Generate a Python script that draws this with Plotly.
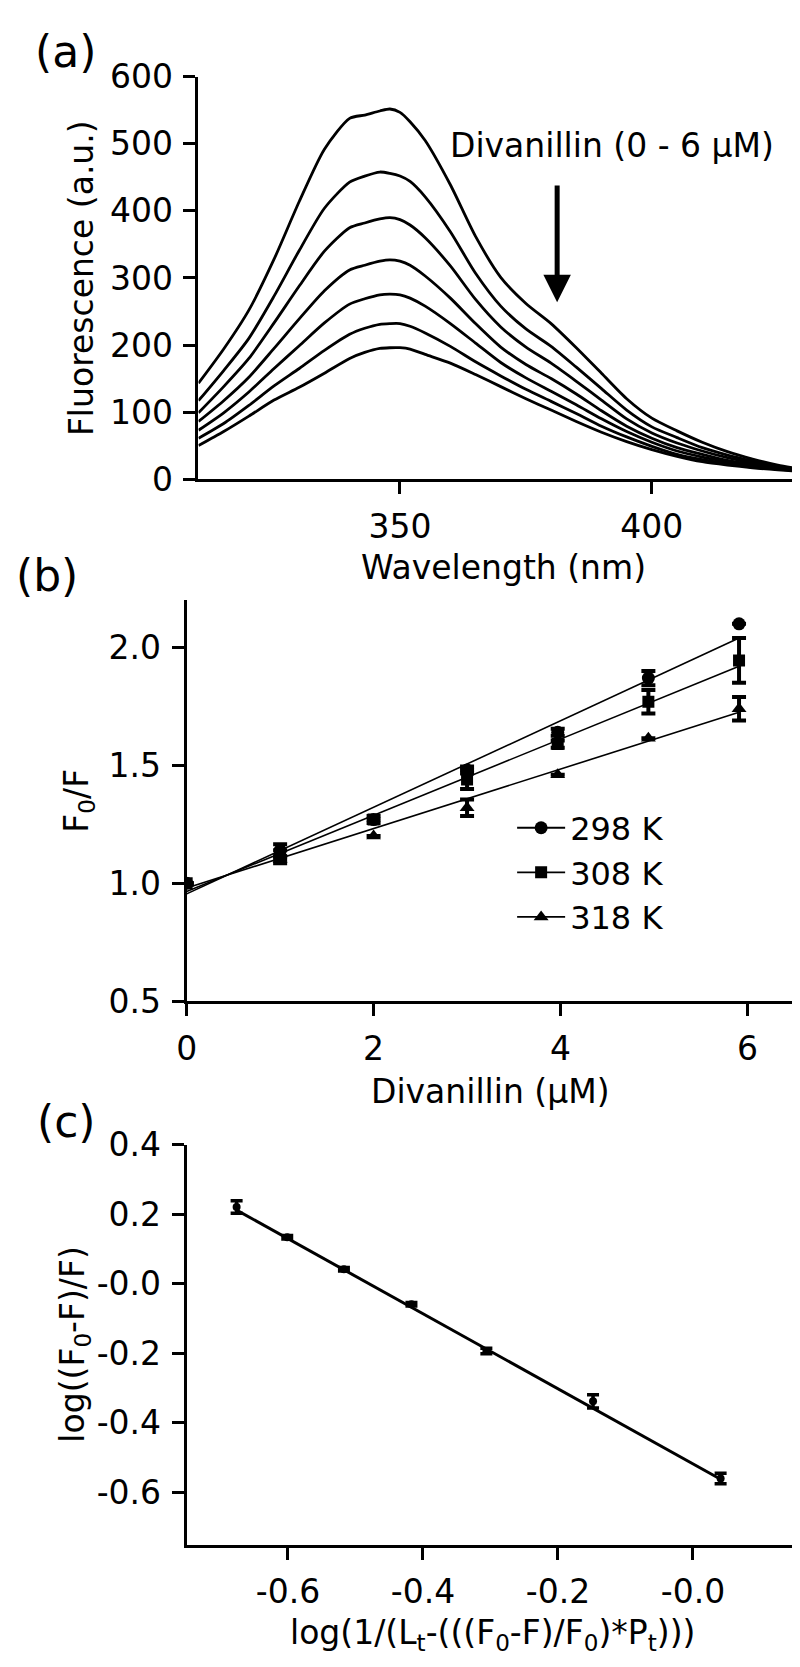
import plotly.graph_objects as go

W, H = 800, 1667
FONT = "DejaVu Sans"

# ---------------- Panel (a): emission spectra ----------------
wavelength = [310, 315, 320, 325, 330, 335, 340, 343, 346, 348, 350, 352, 355, 360,
              365, 370, 375, 380, 385, 390, 395, 400, 405, 410, 415, 420, 425, 431]
spec_0 = [143, 194, 252, 328, 414, 492, 538, 543, 549, 552, 547, 533, 505, 439,
          362, 301, 262, 232, 196, 158, 120, 91, 72, 55, 41, 30, 21, 13]
spec_1 = [117, 162, 210, 273, 341, 404, 443, 452, 458, 456, 452, 444, 421, 369,
          307, 258, 224, 198, 167, 135, 103, 78, 62, 47, 36, 27, 19, 13]
spec_2 = [99, 138, 180, 233, 288, 340, 375, 382, 388, 390, 387, 379, 360, 318,
          268, 227, 197, 173, 146, 118, 90, 69, 54, 42, 32, 24, 18, 12]
spec_3 = [86, 117, 152, 195, 239, 281, 312, 319, 325, 327, 325, 319, 303, 270,
          232, 197, 171, 150, 127, 102, 79, 61, 47, 37, 28, 22, 17, 12]
spec_4 = [73, 99, 130, 165, 199, 233, 261, 269, 275, 276, 275, 270, 258, 232,
          203, 174, 151, 131, 111, 90, 71, 55, 42, 33, 26, 20, 16, 12]
spec_5 = [61, 83, 110, 139, 165, 192, 216, 225, 231, 232, 232, 228, 218, 198,
          175, 154, 134, 116, 98, 79, 63, 49, 37, 29, 23, 18, 15, 11]
spec_6 = [50, 71, 94, 118, 137, 158, 180, 189, 195, 196, 196, 194, 186, 173,
          156, 138, 120, 103, 86, 70, 56, 44, 34, 26, 21, 17, 14, 11]
spectra = [spec_0, spec_1, spec_2, spec_3, spec_4, spec_5, spec_6]

a_yticks = [0, 100, 200, 300, 400, 500, 600]
a_xticks = [350, 400]

# ---------------- Panel (b): Stern-Volmer ----------------
conc = [0, 1, 2, 3, 3.97, 4.94, 5.91]
f0f_298 = [1.00, 1.14, 1.27, 1.48, 1.64, 1.87, 2.10]
err_298 = [0, 0.025, 0, 0.015, 0.015, 0.03, 0]
f0f_308 = [1.00, 1.12, 1.27, 1.44, 1.59, 1.77, 1.945]
err_308 = [0, 0.02, 0.015, 0.04, 0.015, 0.05, 0.095]
f0f_318 = [1.00, 1.10, 1.20, 1.32, 1.46, 1.615, 1.74]
err_318 = [0, 0.015, 0, 0.035, 0, 0, 0.05]
fit_x = [0, 5.91]
fit_298 = [0.955, 2.04]
fit_308 = [0.965, 1.92]
fit_318 = [0.98, 1.725]
temps = ["298 K", "308 K", "318 K"]
b_yticks = [0.5, 1.0, 1.5, 2.0]
b_yticktext = ["0.5", "1.0", "1.5", "2.0"]
b_xticks = [0, 2, 4, 6]

# ---------------- Panel (c): double log ----------------
logx = [-0.676, -0.601, -0.517, -0.417, -0.306, -0.148, 0.041]
logy = [0.221, 0.134, 0.042, -0.059, -0.193, -0.338, -0.560]
logerr = [0.018, 0.005, 0.005, 0.005, 0.008, 0.019, 0.015]
fitc_x = [-0.676, 0.041]
fitc_y = [0.212, -0.562]
c_yticks = [0.4, 0.2, 0.0, -0.2, -0.4, -0.6]
c_yticktext = ["0.4", "0.2", "-0.0", "-0.2", "-0.4", "-0.6"]
c_xticks = [-0.6, -0.4, -0.2, 0.0]
c_xticktext = ["-0.6", "-0.4", "-0.2", "-0.0"]

fig = go.Figure()

for s in spectra:
    fig.add_trace(go.Scatter(x=wavelength, y=s, mode="lines",
                             line=dict(color="black", width=2.8, shape="spline", smoothing=0.7),
                             showlegend=False, xaxis="x", yaxis="y", hoverinfo="skip"))

symbols = ["circle", "square", "triangle-up"]
msizes = [13, 12, 13]
for ys, es, fy, sym, ms, name in zip([f0f_298, f0f_308, f0f_318],
                                      [err_298, err_308, err_318],
                                      [fit_298, fit_308, fit_318],
                                      symbols, msizes, temps):
    fig.add_trace(go.Scatter(x=fit_x, y=fy, mode="lines",
                             line=dict(color="black", width=1.6),
                             showlegend=False, xaxis="x2", yaxis="y2"))
    fig.add_trace(go.Scatter(x=conc, y=ys, mode="markers",
                             marker=dict(symbol=sym, size=ms, color="black"),
                             error_y=dict(type="data", array=es, visible=True,
                                          color="black", thickness=4, width=7),
                             showlegend=False, xaxis="x2", yaxis="y2"))
    # legend-only entry (no drawn marks)
    fig.add_trace(go.Scatter(x=[None], y=[None], mode="lines+markers", name=name,
                             legendgroup=name,
                             line=dict(color="black", width=1.8),
                             marker=dict(symbol=sym, size=ms, color="black"),
                             xaxis="x2", yaxis="y2"))

fig.add_trace(go.Scatter(x=fitc_x, y=fitc_y, mode="lines",
                         line=dict(color="black", width=3),
                         showlegend=False, xaxis="x3", yaxis="y3"))
fig.add_trace(go.Scatter(x=logx, y=logy, mode="markers",
                         marker=dict(symbol="circle", size=8, color="black"),
                         error_y=dict(type="data", array=logerr, visible=True,
                                      color="black", thickness=3.5, width=6),
                         showlegend=False, xaxis="x3", yaxis="y3"))


def px(x):
    return x / W


def py(y):
    return 1 - y / H


axis_common = dict(showline=True, linewidth=3, linecolor="black", ticks="outside",
                   ticklen=12, tickwidth=3, tickcolor="black", showgrid=False,
                   zeroline=False, tickfont=dict(family=FONT, size=33, color="black"),
                   ticklabelstandoff=4, fixedrange=True)

fig.update_layout(
    width=W, height=H, margin=dict(l=0, r=0, t=0, b=0),
    paper_bgcolor="white", plot_bgcolor="white",
    font=dict(family=FONT, color="black"),
    xaxis=dict(domain=[px(182), px(800)], range=[310, 431], anchor="y",
               tickvals=a_xticks, **axis_common),
    yaxis=dict(domain=[py(463), py(51)], range=[0, 600], anchor="x",
               tickvals=a_yticks, **axis_common),
    xaxis2=dict(domain=[px(170), px(786)], range=[0, 6.5], anchor="y2",
                tickvals=b_xticks, **axis_common),
    yaxis2=dict(domain=[py(997.5), py(587)], range=[0.5, 2.2], anchor="x2",
                tickvals=b_yticks, ticktext=b_yticktext, **axis_common),
    xaxis3=dict(domain=[px(170), px(786)], range=[-0.75, 0.15], anchor="y3",
                tickvals=c_xticks, ticktext=c_xticktext, **axis_common),
    yaxis3=dict(domain=[py(1554), py(1144.5)], range=[-0.75, 0.4], anchor="x3",
                tickvals=c_yticks, ticktext=c_yticktext, **axis_common),
    legend=dict(x=px(500), y=py(792), xanchor="left", yanchor="top",
                font=dict(family=FONT, size=32, color="black"),
                bgcolor="rgba(0,0,0,0)", tracegroupgap=0, itemwidth=48),
    showlegend=True,
)

ann = [
    dict(text="(a)", x=px(47), y=py(25), size=44),
    dict(text="(b)", x=px(28), y=py(562), size=44),
    dict(text="(c)", x=px(48), y=py(1121), size=44),
    dict(text="Wavelength (nm)", x=px(491), y=py(553), size=33),
    dict(text="Fluorescence (a.u.)", x=px(64), y=py(257), size=33, angle=-90),
    dict(text="Divanillin (\u03bcM)", x=px(478), y=py(1090), size=33),
    dict(text="F<sub>0</sub>/F", x=px(60), y=py(792), size=33, angle=-90),
    dict(text="log(1/(L<sub>t</sub>-(((F<sub>0</sub>-F)/F<sub>0</sub>)*P<sub>t</sub>)))",
         x=px(480), y=py(1646), size=33),
    dict(text="log((F<sub>0</sub>-F)/F)", x=px(56), y=py(1349), size=33, angle=-90),
]
for a in ann:
    fig.add_annotation(text=a["text"], x=a["x"], y=a["y"], xref="paper", yref="paper",
                       xanchor="center", yanchor="middle", showarrow=False,
                       textangle=a.get("angle", 0),
                       font=dict(family=FONT, size=a["size"], color="black"))

# label and arrow in panel (a)
fig.add_annotation(text="Divanillin (0 - 6 \u03bcM)", x=392, y=498, xref="x", yref="y",
                   xanchor="center", yanchor="middle", showarrow=False,
                   font=dict(family=FONT, size=33, color="black"))
fig.add_annotation(text="", x=381.2, y=264, ax=381.2, ay=440, xref="x", yref="y",
                   axref="x", ayref="y", showarrow=True, arrowhead=2, arrowsize=1.1,
                   arrowwidth=5, arrowcolor="black")

fig.write_html("out.html")
